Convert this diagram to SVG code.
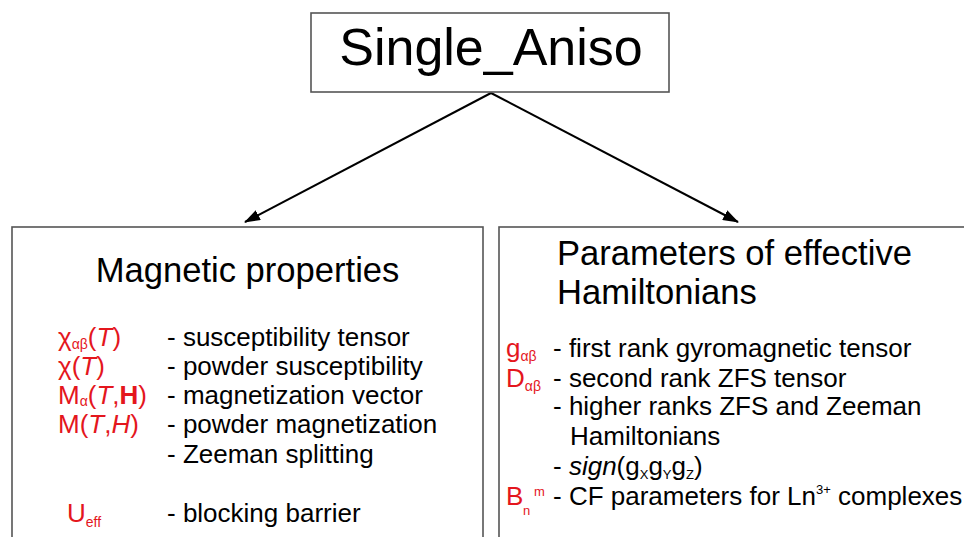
<svg xmlns="http://www.w3.org/2000/svg" width="964" height="537" viewBox="0 0 964 537">
<style>
  text { font-family: "Liberation Sans", Arial, sans-serif; fill: #000; }
  .box { fill: #fff; stroke: #555; stroke-width: 1.6; }
  .item { font-size: 26px; }
  .red { fill: #e4161d; }
  .sub { font-size: 14px; }
  .it { font-style: italic; }
  .b { font-weight: bold; }
  .conn { stroke: #000; stroke-width: 2; fill: none; }
</style>
<defs>
  <marker id="arrow" viewBox="0 0 16 11" refX="15" refY="5.5" markerWidth="16" markerHeight="11" markerUnits="userSpaceOnUse" orient="auto">
    <path d="M0,0 L16,5.5 L0,11 Z" fill="#000"/>
  </marker>
</defs>
<rect width="964" height="537" fill="#fff"/>

<g id="connectors">
  <line class="conn" x1="491" y1="93" x2="245" y2="222" marker-end="url(#arrow)"/>
  <line class="conn" x1="491" y1="93" x2="738" y2="222" marker-end="url(#arrow)"/>
</g>

<g id="single_aniso">
  <rect class="box" x="311" y="13" width="358" height="79"/>
  <text x="491" y="65" font-size="52" text-anchor="middle">Single_Aniso</text>
</g>

<g id="magnetic_properties">
  <rect class="box" x="12" y="227" width="471" height="330"/>
  <text x="247.5" y="282" font-size="34.6" text-anchor="middle">Magnetic properties</text>
  <text class="item red" x="58" y="346">χ<tspan class="sub" dy="3">αβ</tspan><tspan dy="-3">(</tspan><tspan class="it">T</tspan>)</text>
  <text class="item red" x="58" y="375">χ(<tspan class="it">T</tspan>)</text>
  <text class="item red" x="58" y="404">M<tspan class="sub" dy="2">α</tspan><tspan dy="-2">(</tspan><tspan class="it">T</tspan>,<tspan class="b">H</tspan>)</text>
  <text class="item red" x="58" y="433">M(<tspan class="it">T</tspan>,<tspan class="it">H</tspan>)</text>
  <text class="item red" x="67" y="522">U<tspan class="sub" dy="5">eff</tspan></text>
  <text class="item" x="167" y="346">- susceptibility tensor</text>
  <text class="item" x="167" y="375">- powder susceptibility</text>
  <text class="item" x="167" y="404">- magnetization vector</text>
  <text class="item" x="167" y="433">- powder magnetization</text>
  <text class="item" x="167" y="463">- Zeeman splitting</text>
  <text class="item" x="167" y="522">- blocking barrier</text>
</g>

<g id="effective_hamiltonians">
  <rect class="box" x="499" y="227" width="480" height="330"/>
  <text x="557" y="265" font-size="34.6">Parameters of effective</text>
  <text x="557" y="304" font-size="34.6">Hamiltonians</text>
  <text class="item red" x="506" y="357">g<tspan class="sub" dy="4">αβ</tspan></text>
  <text class="item red" x="506" y="387">D<tspan class="sub" dy="4">αβ</tspan></text>
  <text class="item red" x="506" y="505">B</text>
  <text class="red" x="523" y="515" font-size="13">n</text>
  <text class="red" x="534" y="496" font-size="13">m</text>
  <text class="item" x="553" y="357">- first rank gyromagnetic tensor</text>
  <text class="item" x="553" y="387">- second rank ZFS tensor</text>
  <text class="item" x="553" y="415">- higher ranks ZFS and Zeeman</text>
  <text class="item" x="570" y="445">Hamiltonians</text>
  <text class="item" x="553" y="475">- <tspan class="it">sign</tspan>(g<tspan font-size="13" dy="4">X</tspan><tspan dy="-4">g</tspan><tspan font-size="13" dy="4">Y</tspan><tspan dy="-4">g</tspan><tspan font-size="13" dy="4">Z</tspan><tspan dy="-4">)</tspan></text>
  <text class="item" x="553" y="505">- CF parameters for Ln<tspan font-size="13" dy="-11">3+</tspan><tspan dy="11"> complexes</tspan></text>
</g>
</svg>
